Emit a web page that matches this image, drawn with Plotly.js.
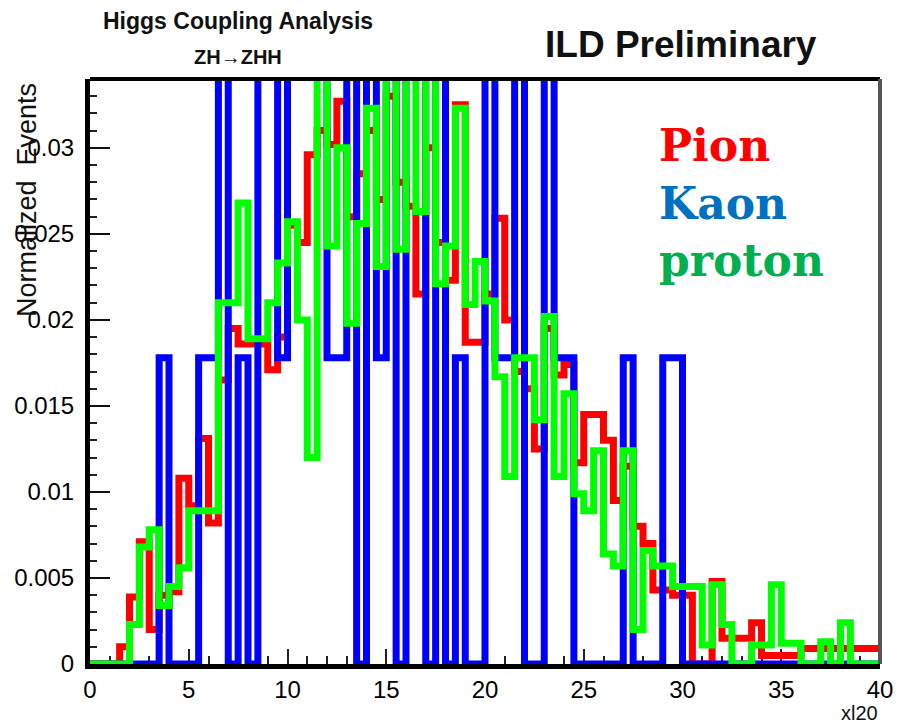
<!DOCTYPE html>
<html>
<head>
<meta charset="utf-8">
<script src="https://cdn.plot.ly/plotly-3.0.1.min.js"></script>
<style>
  html, body { margin: 0; padding: 0; background: #ffffff; }
  #chart { width: 906px; height: 724px; }
</style>
</head>
<body>
<div id="chart"></div>
<script>
// ---------------- DATA ----------------
const xMin = 0;
const binWidth = 0.5;

// Pion (red) – normalized entries per bin, 80 bins over 0..40
const pion = [
  0, 0, 0, 0.0010, 0.0039, 0.0071, 0.0020, 0.0040, 0.0042, 0.0108,
  0.0092, 0.0131, 0.0082, 0.0165, 0.0195, 0.0186, 0.0186, 0.0186, 0.0171, 0.0190,
  0.0255, 0.0245, 0.0296, 0.0310, 0.0302, 0.0327, 0.0260, 0.0285, 0.0310, 0.0270,
  0.0330, 0.0280, 0.0266, 0.0215, 0.0300, 0.0245, 0.0223, 0.0325, 0.0187, 0.0187,
  0.0215, 0.0259, 0.0200, 0.0170, 0.0160, 0.0125, 0.0195, 0.0168, 0.0174, 0.0117,
  0.0145, 0.0145, 0.0130, 0.0095, 0.0115, 0.0080, 0.0070, 0.0043, 0.0043, 0.0040,
  0.0040, 0, 0, 0.0048, 0.0015, 0.0015, 0.0015, 0.0024, 0.0005, 0.0005,
  0.0005, 0.0005, 0.0009, 0.0009, 0.0009, 0.0009, 0.0009, 0.0009, 0.0009, 0.0009
];

// Kaon (blue)
const kaon = [
  0, 0, 0, 0, 0, 0, 0, 0.0178, 0, 0,
  0, 0.0178, 0.0178, 0.0357, 0, 0.0178, 0, 0.0357, 0.0357, 0.0178,
  0.0357, 0.0357, 0.0357, 0.0357, 0.0178, 0.0178, 0.0357, 0, 0.0357, 0.0178,
  0.0357, 0, 0.0357, 0.0357, 0, 0.0357, 0, 0.0178, 0, 0,
  0.0357, 0.0178, 0.0178, 0.0357, 0, 0, 0.0357, 0.0178, 0.0178, 0,
  0, 0, 0, 0, 0.0178, 0, 0, 0, 0.0178, 0.0178,
  0, 0, 0, 0, 0, 0, 0, 0, 0, 0,
  0, 0, 0, 0, 0, 0, 0, 0, 0, 0
];

// proton (green)
const proton = [
  0, 0, 0, 0, 0.0023, 0.0068, 0.0078, 0.0034, 0.0045, 0.0056,
  0.0089, 0.0089, 0.0089, 0.0210, 0.0210, 0.0268, 0.0189, 0.0189, 0.0210, 0.0233,
  0.0257, 0.0200, 0.0120, 0.0360, 0.0243, 0.0300, 0.0198, 0.0256, 0.0323, 0.0231,
  0.0360, 0.0241, 0.0360, 0.0263, 0.0360, 0.0221, 0.0243, 0.0323, 0.0209, 0.0234,
  0.0211, 0.0167, 0.0109, 0.0178, 0.0178, 0.0142, 0.0202, 0.0109, 0.0157, 0.0099,
  0.0089, 0.0124, 0.0064, 0.0057, 0.0124, 0.0020, 0.0066, 0.0057, 0.0057, 0.0045,
  0.0045, 0.0045, 0.0011, 0.0046, 0.0023, 0, 0, 0.0011, 0.0011, 0.0046,
  0.0012, 0.0012, 0, 0, 0.0013, 0, 0.0024, 0, 0, 0
];

const xTickVals = [0, 5, 10, 15, 20, 25, 30, 35, 40];
const xTickText = ["0", "5", "10", "15", "20", "25", "30", "35", "40"];
const yTickVals = [0, 0.005, 0.01, 0.015, 0.02, 0.025, 0.03];
const yTickText = ["0", "0.005", "0.01", "0.015", "0.02", "0.025", "0.03"];

const seriesNames = ["Pion", "Kaon", "proton"];

// ---------------- BUILD ----------------
function stepTrace(values, color, name) {
  const x = [], y = [];
  for (let i = 0; i < values.length; i++) {
    x.push(xMin + i * binWidth);
    y.push(values[i]);
  }
  x.push(xMin + values.length * binWidth);
  y.push(values[values.length - 1]);
  return {
    type: 'scatter', mode: 'lines', name: name, x: x, y: y,
    line: { shape: 'hv', color: color, width: 7 },
    hoverinfo: 'skip'
  };
}

const traces = [
  stepTrace(pion, '#ff0000', seriesNames[0]),
  stepTrace(kaon, '#0000ff', seriesNames[1]),
  stepTrace(proton, '#00ff00', seriesNames[2])
];

// plot area in pixels
const L = 90, R = 880, T = 79, B = 664, W = 906, H = 724;
function px(x) { return (x - L) / (R - L); }
function py(y) { return (B - y) / (B - T); }

const tickFont = { family: 'Liberation Sans, Arial, sans-serif', size: 24, color: '#000000' };

const layout = {
  width: W, height: H,
  margin: { l: L, r: W - R, t: T, b: H - B, pad: 0 },
  paper_bgcolor: '#ffffff', plot_bgcolor: '#ffffff',
  showlegend: false,
  xaxis: {
    range: [0, 40], showgrid: false, zeroline: false,
    showline: true, linecolor: '#000000', linewidth: 5,
    ticks: 'inside', ticklen: 15, tickwidth: 2, tickcolor: '#222222',
    tickmode: 'array', tickvals: xTickVals, ticktext: xTickText,
    tickfont: tickFont, ticklabelstandoff: 0,
    minor: { ticks: 'inside', ticklen: 8, tickwidth: 2, tickcolor: '#222222', tickmode: 'linear', tick0: 0, dtick: 1 },
    layer: 'below traces', fixedrange: true
  },
  yaxis: {
    range: [0, 0.034], showgrid: false, zeroline: false,
    showline: true, linecolor: '#000000', linewidth: 5,
    ticks: 'inside', ticklen: 20, tickwidth: 2, tickcolor: '#111111',
    tickmode: 'array', tickvals: yTickVals, ticktext: yTickText,
    tickfont: tickFont, ticklabelstandoff: 6,
    minor: { ticks: 'inside', ticklen: 7, tickwidth: 2, tickcolor: '#222222', tickmode: 'linear', tick0: 0, dtick: 0.001 },
    layer: 'below traces', fixedrange: true
  },
  shapes: [
    { type: 'line', xref: 'paper', yref: 'paper', x0: 0, x1: 1, y0: 1, y1: 1, line: { color: '#000000', width: 4 } },
    { type: 'line', xref: 'paper', yref: 'paper', x0: 1, x1: 1, y0: 0, y1: 1, line: { color: '#555555', width: 4 } }
  ],
  annotations: [
    { xref: 'paper', yref: 'paper', x: px(238), y: py(21), xanchor: 'center', yanchor: 'middle', showarrow: false,
      text: '<b>Higgs Coupling Analysis</b>', font: { family: 'Liberation Sans, Arial, sans-serif', size: 23, color: '#111111' } },
    { xref: 'paper', yref: 'paper', x: px(238), y: py(57), xanchor: 'center', yanchor: 'middle', showarrow: false,
      text: '<b>ZH→ZHH</b>', font: { family: 'Liberation Sans, Arial, sans-serif', size: 20, color: '#111111' } },
    { xref: 'paper', yref: 'paper', x: px(681), y: py(45), xanchor: 'center', yanchor: 'middle', showarrow: false,
      text: '<b>ILD Preliminary</b>', font: { family: 'Liberation Sans, Arial, sans-serif', size: 37, color: '#111111' } },
    { xref: 'paper', yref: 'paper', x: px(657), y: py(145), xanchor: 'left', yanchor: 'middle', showarrow: false,
      text: '<b>' + seriesNames[0] + '</b>', font: { family: 'DejaVu Serif, serif', size: 44, color: '#ff0000' } },
    { xref: 'paper', yref: 'paper', x: px(657), y: py(203), xanchor: 'left', yanchor: 'middle', showarrow: false,
      text: '<b>' + seriesNames[1] + '</b>', font: { family: 'DejaVu Serif, serif', size: 44, color: '#0070c0' } },
    { xref: 'paper', yref: 'paper', x: px(657), y: py(260), xanchor: 'left', yanchor: 'middle', showarrow: false,
      text: '<b>' + seriesNames[2] + '</b>', font: { family: 'DejaVu Serif, serif', size: 44, color: '#00b050' } },
    { xref: 'paper', yref: 'paper', x: px(27), y: py(200), xanchor: 'center', yanchor: 'middle', showarrow: false, textangle: -90,
      text: 'Normalized  Events', font: { family: 'Liberation Sans, Arial, sans-serif', size: 27, color: '#111111' } },
    { xref: 'paper', yref: 'paper', x: px(880), y: py(713), xanchor: 'right', yanchor: 'middle', showarrow: false,
      text: 'xl20', font: { family: 'Liberation Sans, Arial, sans-serif', size: 20, color: '#111111' } }
  ]
};

Plotly.newPlot('chart', traces, layout, { staticPlot: true, displayModeBar: false });
</script>
</body>
</html>
